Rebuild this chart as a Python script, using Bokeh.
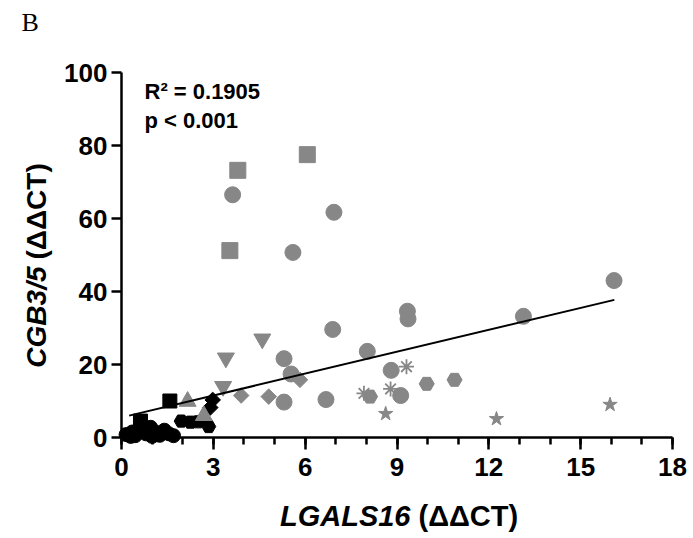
import math
from bokeh.plotting import figure
from bokeh.models import Range1d, SingleIntervalTicker, Label
from bokeh.embed import file_html
from bokeh.resources import INLINE

# ---- data ----
gray_circle_x = [3.63, 6.94, 5.60, 9.34, 9.36, 6.90, 5.31, 8.03, 5.54, 8.81, 5.31, 6.68, 9.12, 16.09, 13.13]
gray_circle_y = [66.5, 61.7, 50.7, 34.6, 32.5, 29.6, 21.6, 23.6, 17.4, 18.4, 9.7, 10.4, 11.5, 43.0, 33.2]
gray_square_x = [3.80, 6.07, 3.54]
gray_square_y = [73.2, 77.5, 51.2]
gray_hex_x = [8.12, 9.97, 10.88]
gray_hex_y = [11.2, 14.7, 15.8]
gray_asterisk_x = [7.92, 8.79, 9.31]
gray_asterisk_y = [12.1, 13.3, 19.4]
gray_star_x = [8.63, 12.25, 15.96]
gray_star_y = [6.5, 5.1, 9.0]
gray_invtri_x = [4.60, 3.41, 3.32]
gray_invtri_y = [27.0, 21.8, 14.0]
gray_diamond_x = [3.91, 4.81, 5.83]
gray_diamond_y = [11.5, 11.2, 15.8]
gray_tri_x = [2.16, 2.69]
gray_tri_y = [9.9, 6.0]

black_circle_x = [0.15, 0.35, 0.45, 0.60, 0.80, 0.95, 1.10, 1.25, 1.40, 1.55, 1.70, 0.30, 1.00]
black_circle_y = [0.8, 1.5, 0.5, 2.2, 1.0, 2.8, 1.5, 0.6, 2.0, 1.0, 0.5, 0.3, 0.3]
black_square_x = [1.58, 0.62]
black_square_y = [10.0, 4.5]
black_hex_x = [1.95, 2.25, 2.50, 2.85]
black_hex_y = [4.5, 4.2, 4.3, 3.0]
black_diamond_x = [2.98, 2.90]
black_diamond_y = [10.3, 8.2]

fit_slope = 2.0
fit_intercept = 5.5
fit_x = [0.25, 16.1]
fit_y = [fit_slope * v + fit_intercept for v in fit_x]

x_min, x_max, x_step = 0, 18, 3
y_min, y_max, y_step = 0, 100, 20

x_title_gene = "LGALS16"
y_title_gene = "CGB3/5"
title_unit = "(\u0394\u0394CT)"
panel_letter = "B"
stat_r2 = "R\u00b2 = 0.1905"
stat_p = "p < 0.001"

# ---- layout: the frame fills the canvas; axes sit at data 0 ----
W, H = 693, 538
PX_LEFT, PX_RIGHT = 121, 672      # pixel columns of x=0 and x=18
PX_BOTTOM, PX_TOP = 437, 72       # pixel rows of y=0 and y=100
xs = (PX_RIGHT - PX_LEFT) / (x_max - x_min)
ys = (PX_BOTTOM - PX_TOP) / (y_max - y_min)
x_range = Range1d(x_min - PX_LEFT / xs, x_max + (W - PX_RIGHT) / xs)
y_range = Range1d(y_min - (H - PX_BOTTOM) / ys, y_max + PX_TOP / ys)

GRAY = "#878787"
FONT = "Liberation Sans"

p = figure(width=W, height=H, output_backend="svg", toolbar_location=None,
           x_range=x_range, y_range=y_range, min_border=0)
p.outline_line_color = None
p.grid.visible = False
p.background_fill_color = "white"
p.border_fill_color = "white"

p.xaxis.fixed_location = 0
p.yaxis.fixed_location = 0
p.xaxis.bounds = (x_min, x_max)
p.yaxis.bounds = (y_min, y_max)

for ax in (p.xaxis[0], p.yaxis[0]):
    ax.axis_line_width = 2.5
    ax.axis_line_color = "black"
    ax.major_tick_line_width = 2.5
    ax.minor_tick_line_width = 2.5
    ax.major_tick_in = 0
    ax.minor_tick_in = 0
    ax.major_label_text_font = FONT
    ax.major_label_text_font_style = "bold"
    ax.major_label_text_font_size = "26px"
    ax.major_label_text_color = "black"

p.xaxis.ticker = SingleIntervalTicker(interval=x_step, num_minor_ticks=3)
p.xaxis.major_tick_out = 12
p.xaxis.minor_tick_out = 7
p.xaxis.major_label_standoff = 8
p.yaxis.ticker = SingleIntervalTicker(interval=y_step, num_minor_ticks=0)
p.yaxis.major_tick_out = 10
p.yaxis.minor_tick_out = 0
p.yaxis.major_label_standoff = 4

# gray groups
p.scatter(gray_circle_x, gray_circle_y, marker="circle", size=16, color=GRAY)
p.scatter(gray_square_x, gray_square_y, marker="square", size=16, color=GRAY)
p.scatter(gray_hex_x, gray_hex_y, marker="hex", size=15, color=GRAY)
p.scatter(gray_asterisk_x, gray_asterisk_y, marker="asterisk", size=15, line_color=GRAY, line_width=1.8)
p.scatter(gray_star_x, gray_star_y, marker="star", size=15, color=GRAY)
p.scatter(gray_invtri_x, gray_invtri_y, marker="inverted_triangle", size=17, color=GRAY)
p.scatter(gray_diamond_x, gray_diamond_y, marker="square", angle=math.pi / 4, size=11, color=GRAY)

# black groups
p.scatter(black_circle_x, black_circle_y, marker="circle", size=14, color="black")
p.scatter(black_square_x, black_square_y, marker="square", size=14, color="black")
p.scatter(black_hex_x, black_hex_y, marker="hex", size=14, color="black")
p.scatter(black_diamond_x, black_diamond_y, marker="square", angle=math.pi / 4, size=11, color="black")

# gray triangles sit on top of the black cluster
p.scatter(gray_tri_x, gray_tri_y, marker="triangle", size=17, color=GRAY)

# regression line
p.line(fit_x, fit_y, line_color="black", line_width=2)


def txt(text, px, py, size, style="bold", align="left", angle=0.0, font=FONT):
    # px, py: wanted baseline position on the canvas (from its top-left corner)
    shift = 0.41 * size  # observed offset of the rendered baseline
    if angle:
        px = px - shift
    else:
        py = py - shift
    p.add_layout(Label(x=px, y=H - py, x_units="screen", y_units="screen", text=text,
                       angle=angle, text_align=align, text_baseline="alphabetic",
                       text_font=font, text_font_style=style, text_font_size=f"{size}px",
                       text_color="black"))


txt(panel_letter, 21, 33, 26, style="normal", font="Liberation Serif")
txt(stat_r2, 144, 100, 22)
txt(stat_p, 144, 129, 22)

# x axis title
txt(x_title_gene, 410, 527, 29, style="bold italic", align="right")
txt(title_unit, 418, 527, 29, align="left")
# y axis title (rotated, reads bottom to top)
txt(y_title_gene, 47, 266, 28, style="bold italic", align="right", angle=math.pi / 2)
txt(title_unit, 47, 259, 28, align="left", angle=math.pi / 2)

open("out.html", "w").write(file_html(p, INLINE))
